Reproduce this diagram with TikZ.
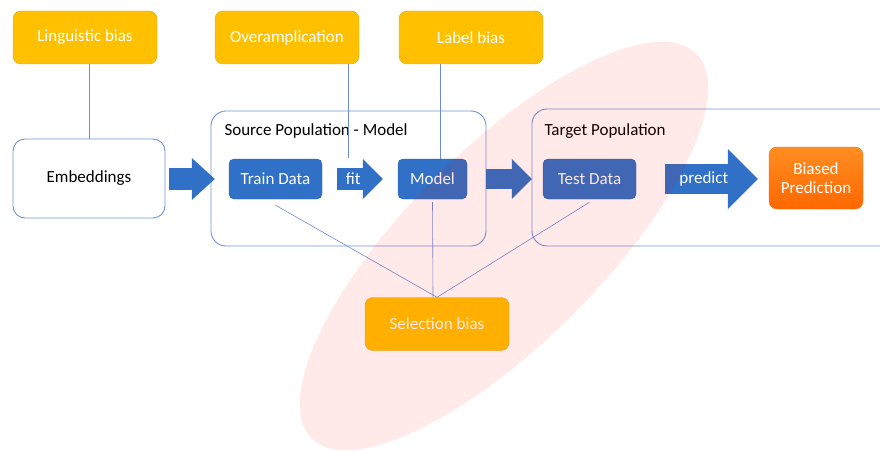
\documentclass[tikz,border=0pt]{standalone}
\usepackage{fontspec}
\setmainfont{Carlito}
\usetikzlibrary{arrows.meta}
\definecolor{biasorange}{HTML}{FFC000}
\definecolor{biasedge}{HTML}{E0A514}
\definecolor{datablue}{HTML}{3070C6}
\definecolor{frameblue}{HTML}{6F93D4}
\definecolor{lineblue}{HTML}{6A8ED6}
\definecolor{predtop}{HTML}{FF8E22}
\definecolor{predbottom}{HTML}{FF6700}

\begin{document}
\begin{tikzpicture}[x=1pt, y=1pt, font=\fontsize{17}{20}\selectfont,
  bias/.style={draw=biasedge, fill=biasorange, rounded corners=8, minimum width=144, minimum height=53, text=white},
  data/.style={draw=datablue!85!black, fill=datablue, rounded corners=5, minimum height=40, text=white},
  frame/.style={draw=frameblue, line width=0.9pt, rounded corners=15},
  link/.style={draw=lineblue, line width=0.6pt},
  fatarrow/.style={draw=datablue, line width=22pt, -{Triangle[length=23pt, width=42pt, line width=0pt]}}]
\useasboundingbox (0,0) rectangle (880,-452);

% Population frames
\node[frame, minimum width=275, minimum height=135] (source) at (348.5,-178.5) {};
\node[frame, minimum width=368, minimum height=137] (target) at (716,-177.5) {};
\node[anchor=west] (sourcetitle) at (221,-131) {Source Population - Model};
\node[anchor=west] (targettitle) at (541,-131) {Target Population};

% Bias sources
\node[bias] (linguistic) at (85,-37.5) {Linguistic bias};
\node[bias] (overamp) at (287,-37.5) {Overamplication};
\node[bias] (labelbias) at (471,-37.5) {Label bias};
\node[bias] (selection) at (437,-324) {Selection bias};

% Pipeline
\node[draw=frameblue, line width=0.9pt, rounded corners=12, minimum width=152, minimum height=79] (emb) at (89,-178.5) {Embeddings};
\node[data, minimum width=93] (train) at (275.5,-179) {Train Data};
\node[data, minimum width=69] (model) at (432.5,-179) {Model};
\node[data, minimum width=93] (test) at (589.5,-179) {Test Data};
\node[draw=predbottom, top color=predtop, bottom color=predbottom, rounded corners=8, minimum width=94, minimum height=62, text=white, align=center, font=\fontsize{17}{19}\selectfont] (pred) at (816,-178) {Biased\\Prediction};

% Block arrows
\draw[fatarrow, shorten <=4pt, shorten >=14pt] (emb.east |- train) -- (train.west);
\draw[fatarrow, line width=22pt, -{Triangle[length=20pt, width=40pt, line width=0pt]}, shorten <=15pt, shorten >=15pt] (train.east) -- node[pos=0.41, text=white] (fitlabel) {fit} (model.west);
\draw[fatarrow, line width=20pt, -{Triangle[length=20pt, width=40pt, line width=0pt]}, shorten <=19pt, shorten >=11pt] (model.east) -- (test.west);
\draw[fatarrow, line width=30pt, -{Triangle[length=30pt, width=60pt, line width=0pt]}, shorten <=29pt, shorten >=11pt] (test.east) -- node[pos=0.51, text=white] (predictlabel) {predict} (pred.west |- test);

% Bias links
\coordinate (fitin) at (348,-158);
\draw[link] (linguistic.south -| emb.north) -- (emb.north);
\draw[link] (overamp.south -| fitin) -- (fitin);
\draw[link] ([xshift=7.5]model.north |- labelbias.south) -- ([xshift=7.5]model.north);
\draw[link] ([yshift=-6]train.south) -- (selection.north);
\draw[link] ([yshift=-3]model.south) -- ([xshift=-4]selection.north);
\draw[link] ([yshift=-3]test.south) -- (selection.north);

% Selection region
\fill[red, fill opacity=0.085, rotate around={45:(504,-246)}] (504,-246) ellipse [x radius=272, y radius=97];

\end{tikzpicture}
\end{document}
